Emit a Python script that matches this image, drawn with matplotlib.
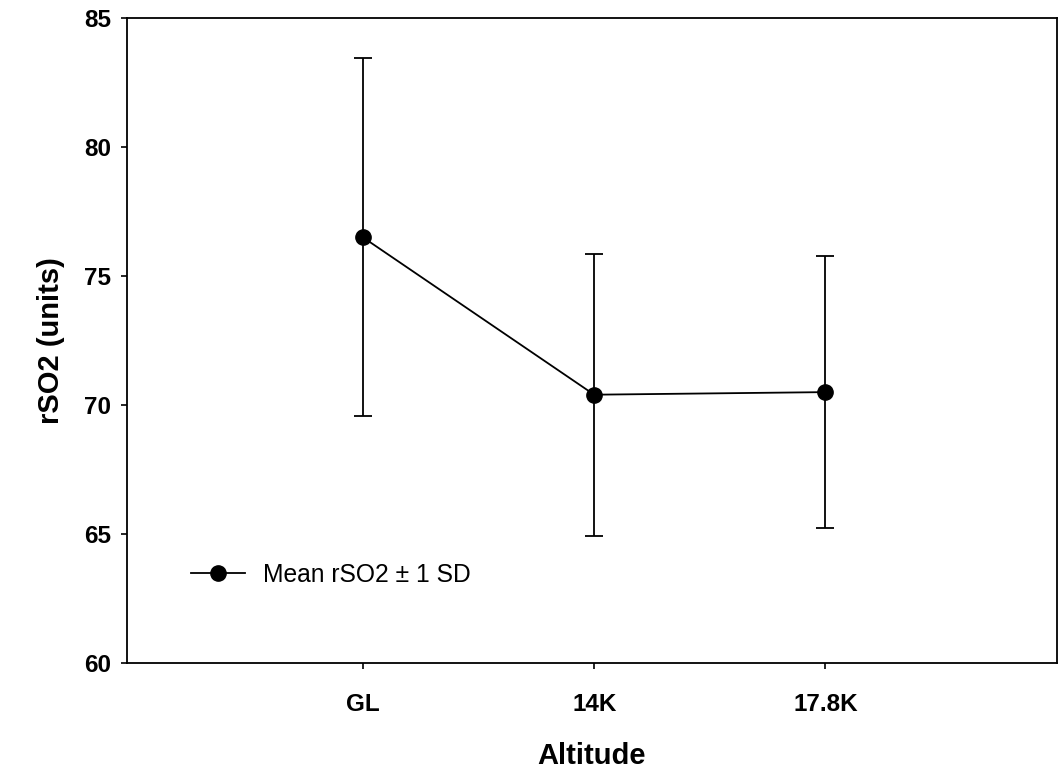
import numpy as np
import matplotlib
matplotlib.use("Agg")
import matplotlib.pyplot as plt
from matplotlib.lines import Line2D

plt.rcParams["font.family"] = ["Liberation Sans", "DejaVu Sans"]

# %% Data
altitude = ["GL", "14K", "17.8K"]
mean_rso2 = [76.5, 70.4, 70.5]
sd_rso2 = [6.93, 5.47, 5.27]
y_ticks = [60, 65, 70, 75, 80, 85]

# %% Plot
fig = plt.figure(figsize=(10.59, 7.71), dpi=100)
ax = fig.add_axes([0.1199, 0.140, 0.878, 0.8367])

x = np.arange(1, len(altitude) + 1)
ax.errorbar(x, mean_rso2, yerr=sd_rso2, color="black", lw=1.3,
            elinewidth=1.3, capsize=6.8, capthick=1.3,
            marker="o", markersize=11)

ax.set_xlim(-0.02, 4.0)
ax.set_ylim(60, 85)
ax.set_xticks(x)
ax.set_xticklabels(altitude)
ax.set_yticks(y_ticks)
for sp in ax.spines.values():
    sp.set_linewidth(1.3)
ax.tick_params(direction="out", length=4.5, width=1.2, labelsize=17.5)
ax.tick_params(axis="x", pad=17)
ax.tick_params(axis="y", pad=7)
for lbl in ax.get_xticklabels() + ax.get_yticklabels():
    lbl.set_fontweight("bold")

ax.set_xlabel("Altitude", fontsize=21, fontweight="bold", labelpad=19)
ax.set_ylabel("rSO2 (units)", fontsize=21, fontweight="bold", labelpad=14)

# legend handle: plain line with dot, no caps
handle = Line2D([], [], color="black", lw=1.3, marker="o", markersize=11)
ax.legend([handle], ["Mean rSO2 \u00b1 1 SD"], loc="lower left",
          bbox_to_anchor=(0.045, 0.084), frameon=False,
          fontsize=17.7, handlelength=2.2, handletextpad=0.75)

fig.savefig("out.png", dpi=100)
